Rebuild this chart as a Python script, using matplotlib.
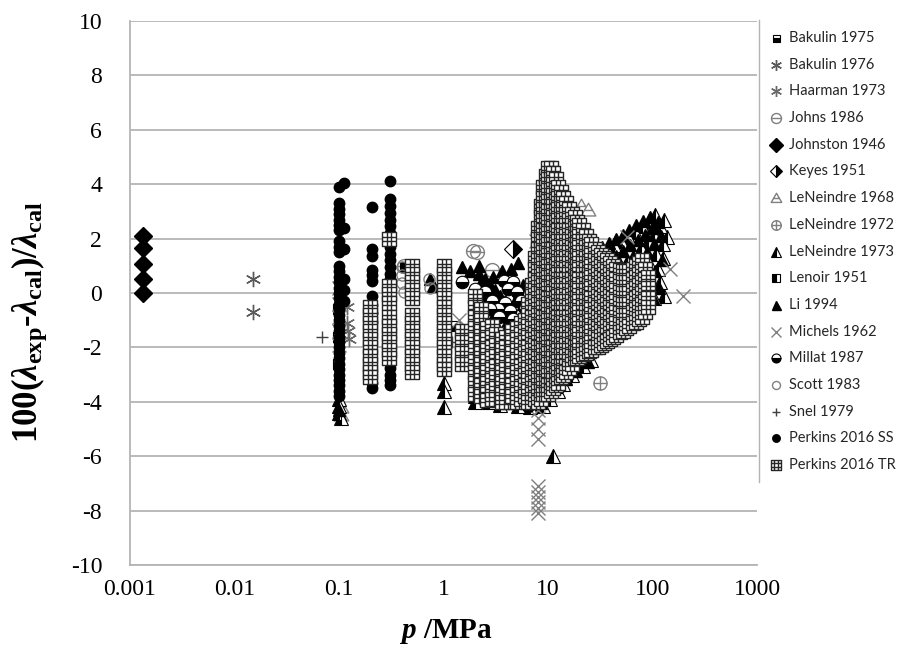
import matplotlib
matplotlib.use("Agg")
import matplotlib.pyplot as plt
from matplotlib.path import Path
from matplotlib.lines import Line2D

plt.rcParams['mathtext.fontset'] = 'custom'
plt.rcParams['mathtext.rm'] = 'Liberation Serif:bold'
plt.rcParams['mathtext.it'] = 'Liberation Serif:italic:bold'
plt.rcParams['mathtext.bf'] = 'Liberation Serif:bold'

# ---------------------------------------------------------------- data
# pressure p / MPa and relative deviation 100(lam_exp - lam_cal)/lam_cal

bakulin75_p = [0.098, 0.098, 0.098, 1.3, 2.2]
bakulin75_d = [-0.6, -1.6, -2.6, -1.2, -2.4]

bakulin76_p = [0.015, 0.015]
bakulin76_d = [0.5, -0.7]

haarman_p = [0.118, 0.122, 0.125, 0.12]
haarman_d = [-1.1, -1.4, -1.7, -0.5]

johns_p = [0.42, 1.9, 2.1, 2.9, 4.2]
johns_d = [1.0, 1.55, 1.5, 0.85, 0.5]

johnston_p = [0.00133, 0.00133, 0.00133, 0.00133, 0.00133]
johnston_d = [2.1, 1.65, 1.05, 0.5, 0.0]

keyes_p = [4.6]
keyes_d = [1.6]

leneindre68_p = [20.5, 24.0, 0.105, 0.105]
leneindre68_d = [3.2, 3.05, -4.2, -4.5]

leneindre72_p = [31.5, 21.0]
leneindre72_d = [-3.3, 2.4]

leneindre73_p = [0.1, 0.1, 0.1, 0.104, 1.0, 1.0, 1.0, 2.0, 2.0, 2.7, 3.5, 4.2,
                 5.2, 6.8, 8.2, 9.0, 11.2, 10.4, 12.5, 13.9, 17.0, 21.7, 26.0,
                 22.0, 26.0, 31.0, 37.0, 43.0, 50.0, 58.0, 68.0, 79.0, 92.0, 106.0,
                 31.0, 36.0, 42.0, 49.0, 57.0, 66.0, 77.0, 90.0, 104.0, 118.0, 128.0,
                 50.0, 58.0, 68.0, 80.0, 93.0, 108.0, 125.0, 138.0,
                 85.0, 104.0, 117.0, 130.0, 112.0, 125.0]
leneindre73_d = [-3.9, -4.15, -4.4, -4.6, -3.3, -3.6, -4.2, -3.8, -4.0, -4.0, -4.1, -4.0,
                 -4.15, -4.2, -4.05, -4.15, -6.0, -3.9, -3.6, -3.35, -3.0, -2.7, -2.45,
                 1.1, 1.25, 1.45, 1.6, 1.75, 1.9, 2.05, 2.25, 2.45, 2.65, 2.85,
                 0.35, 0.55, 0.75, 0.95, 1.15, 1.4, 1.65, 1.9, 2.15, 2.45, 2.7,
                 0.05, 0.3, 0.55, 0.8, 1.1, 1.45, 1.8, 2.05,
                 -0.2, -0.2, 0.4, -0.1, 0.9, 1.3]

lenoir_p = [0.43, 2.0, 5.0, 10.0, 20.0]
lenoir_d = [0.95, -1.0, -2.0, -1.0, 0.0]

li_p = [0.1, 0.75, 0.8, 1.5, 1.8, 2.2, 2.3, 2.6, 2.8, 3.0, 3.2, 3.4, 3.6, 3.3, 3.8,
        4.2, 4.5, 4.0, 5.0, 5.4, 5.8, 6.2, 5.2, 2.0, 2.5,
        2.2, 2.5, 2.8, 3.1, 3.5, 3.9, 4.3, 4.8, 5.3, 5.8,
        2.4, 2.7, 3.0, 3.4, 3.8, 4.2, 4.7, 5.2, 5.7, 6.1,
        2.9, 3.3, 3.7, 4.1, 4.6, 5.1, 3.0, 3.6, 4.4,
        8.6, 10.0, 12.0, 15.0, 18.5, 24.0,
        24.0, 28.0, 33.0, 38.0, 45.0, 52.0, 60.0, 70.0, 82.0, 95.0,
        28.0, 33.0, 38.0, 45.0, 52.0, 61.0, 72.0, 84.0, 98.0, 112.0,
        40.0, 47.0, 55.0, 64.0, 75.0, 88.0, 103.0, 120.0,
        65.0, 76.0, 90.0, 105.0, 122.0, 100.0, 115.0]
li_d = [-4.3, 0.5, 0.25, 0.95, 0.8, 1.0, 0.4, -0.2, -0.6, -0.9, -1.2, -1.5, -1.8, -0.3, -0.7,
        -1.0, -1.3, -2.0, 0.2, -0.1, -0.4, -0.7, 1.1, 0.0, -0.9,
        0.7, 0.5, 0.3, 0.1, -0.1, -0.3, -0.5, -0.3, 0.0, 0.3,
        -0.4, -0.45, -0.5, -0.6, -0.8, -0.9, -1.1, -1.0, -0.9, -1.1,
        -1.1, -1.3, -1.35, -1.4, -1.5, -1.3, 0.6, 0.8, 0.9,
        -4.05, -3.75, -3.45, -3.15, -2.85, -2.55,
        1.4, 1.55, 1.7, 1.85, 2.0, 2.15, 2.3, 2.5, 2.65, 2.8,
        0.8, 1.0, 1.15, 1.35, 1.55, 1.75, 1.95, 2.15, 2.4, 2.6,
        0.3, 0.5, 0.75, 1.0, 1.25, 1.5, 1.8, 2.1,
        -0.1, 0.15, 0.45, 0.8, 1.2, -0.2, 0.2]

michels_p = [8.0, 8.0, 8.0, 8.0, 8.0, 8.0, 8.0, 8.0, 8.0, 8.0,
             0.1, 0.1, 0.1, 0.1, 0.1, 8.0, 7.6, 1.4, 1.6, 1.8, 57.0, 146.0, 195.0]
michels_d = [-4.3, -4.6, -5.0, -5.35, -7.1, -7.3, -7.5, -7.7, -7.9, -8.1,
             0.2, -0.4, -0.9, -1.4, -1.9, 2.3, 1.9, -1.0, -1.3, -1.6, 2.05, 0.9, -0.1]

millat_p = [1.5, 2.0, 2.5, 2.9, 3.3, 3.9, 4.1, 3.8, 2.8, 3.4, 4.3, 4.6, 5.0, 5.5, 6.0, 4.6, 6.4]
millat_d = [0.4, 0.15, 0.05, -0.3, -0.6, -0.35, 0.15, 0.45, -0.6, -0.9, -0.65, 0.4, 0.05, -0.3, -0.6, -0.95, -4.15]

scott_p = [0.4, 0.4, 0.4, 0.42, 0.72, 0.75]
scott_d = [0.95, 0.65, 0.35, 0.05, 0.5, 0.2]

snel_p = [0.069, 1.6, 3.5, 2.4, 1.2]
snel_d = [-1.62, -2.05, -1.95, -1.7, -1.8]

# Perkins 2016 steady-state: one list of deviations per pressure
ss_p = [0.101, 0.112, 0.205, 0.31]
ss_d = [
    [3.9, 3.3, 3.1, 2.9, 2.7, 2.5, 2.3, 1.9, 1.7, 1.5, 1.0, 0.8, 0.6, 0.4, 0.2, 0.0,
     -0.2, -0.4, -0.6, -0.8, -1.0, -1.2, -1.4, -1.6, -1.8, -2.0, -2.2, -2.4, -2.6,
     -2.8, -3.0, -3.2, -3.4, -3.6, -3.8],
    [4.05, 2.4, 1.6, 0.5, 0.1, -0.3],
    [3.15, 1.6, 1.35, 0.85, 0.65, 0.45, -0.1, -0.45, -0.75, -1.05, -3.3, -3.5],
    [4.1, 3.45, 3.2, 2.95, 2.7, 2.45, 2.2, 1.7, 1.45, 1.2, 0.95, 0.7, 0.5,
     -2.5, -2.75, -3.0, -3.2, -3.4],
]

# Perkins 2016 transient hot wire: one list of deviations per pressure
tr_p = [0.2, 0.3, 0.5, 1.0, 1.5, 2.0, 2.3, 2.6, 2.9, 3.2, 3.6, 4.0, 4.5, 5.0, 5.5,
        6.0, 6.5, 7.0, 7.5, 8.0, 8.5, 9.0, 9.5, 10.0, 10.6, 11.2, 11.8, 12.5, 13.2,
        14.0, 15.0, 16.0, 17.0, 18.0, 19.0, 20.0, 21.5, 23.0, 24.5, 26.0, 28.0,
        30.0, 32.0, 34.0, 36.5, 39.0, 42.0, 45.0, 48.5, 52.0, 56.0, 60.0, 65.0,
        70.0, 75.0, 80.0, 85.0, 90.0]
tr_d = [
    [-0.5, -0.8, -1.1, -1.4, -1.7, -2.0, -2.3, -2.6, -2.9, -3.1],
    [2.0, 0.25, -0.05, -0.35, -0.9, -1.2, -1.5, -1.8, -2.1, -2.4],
    [1.0, 0.7, 0.4, 0.1, -0.2, -0.8, -1.1, -1.4, -1.7, -2.0, -2.3, -2.6, -2.9],
    [1.0, 0.7, 0.4, 0.1, -0.2, -0.5, -0.8, -1.1, -1.4, -1.7, -2.0, -2.3, -2.6, -2.8],
    [-1.4, -1.8, -2.2, -2.6],
    [-0.1, -0.5, -0.9, -1.3, -1.7, -2.1, -2.5, -2.9, -3.3, -3.7],
    [-0.6, -1.0, -1.4, -1.8, -2.2, -2.6, -3.0, -3.4, -3.8],
    [-1.3, -1.7, -2.1, -2.5, -2.9, -3.3, -3.7, -3.95],
    [-1.2, -1.6, -2.0, -2.4, -2.8, -3.2, -3.6, -3.9],
    [-1.5, -1.9, -2.3, -2.7, -3.1, -3.5, -3.9],
    [-1.7, -2.1, -2.5, -2.9, -3.3, -3.7, -4.0],
    [-1.6, -2.0, -2.4, -2.8, -3.2, -3.6, -4.0],
    [-1.4, -1.8, -2.2, -2.6, -3.0, -3.4, -3.8],
    [-1.3, -1.7, -2.1, -2.5, -2.9, -3.3, -3.7, -4.0],
    [-1.1, -1.5, -1.9, -2.3, -2.7, -3.1, -3.5, -3.9],
    [-1.0, -1.4, -1.8, -2.2, -2.6, -3.0, -3.4, -3.8],
    [-0.4, -0.8, -1.2, -1.6, -2.0, -2.4, -2.8, -3.2, -3.6, -4.0],
    [0.3, -0.1, -0.5, -0.9, -1.3, -1.7, -2.1, -2.5, -2.9, -3.3, -3.7, -4.0],
    [1.3, 0.9, 0.5, 0.1, -0.3, -0.7, -1.1, -1.5, -1.9, -2.3, -2.7, -3.1, -3.5, -3.9],
    [2.4, 2.0, 1.6, 1.2, 0.8, 0.4, 0.0, -0.4, -0.8, -1.2, -1.6, -2.0, -2.4, -2.8,
     -3.2, -3.6, -4.0],
    [3.2, 2.8, 2.4, 2.0, 1.6, 1.2, 0.8, 0.4, 0.0, -0.4, -0.8, -1.2, -1.6, -2.0,
     -2.4, -2.8, -3.2, -3.6, -3.9],
    [3.9, 3.5, 3.1, 2.7, 2.3, 1.9, 1.5, 1.1, 0.7, 0.3, -0.1, -0.5, -0.9, -1.3,
     -1.7, -2.1, -2.5, -2.9, -3.3, -3.7],
    [4.3, 3.9, 3.5, 3.1, 2.7, 2.3, 1.9, 1.5, 1.1, 0.7, 0.3, -0.1, -0.5, -0.9,
     -1.3, -1.7, -2.1, -2.5, -2.9, -3.3, -3.7],
    [4.6, 4.2, 3.8, 3.4, 3.0, 2.6, 2.2, 1.8, 1.4, 1.0, 0.6, 0.2, -0.2, -0.6,
     -1.0, -1.4, -1.8, -2.2, -2.6, -3.0, -3.4, -3.7],
    [4.6, 4.2, 3.8, 3.4, 3.0, 2.6, 2.2, 1.8, 1.4, 1.0, 0.6, 0.2, -0.2, -0.6,
     -1.0, -1.4, -1.8, -2.2, -2.6, -3.0, -3.4, -3.6],
    [4.4, 4.0, 3.6, 3.2, 2.8, 2.4, 2.0, 1.6, 1.2, 0.8, 0.4, 0.0, -0.4, -0.8,
     -1.2, -1.6, -2.0, -2.4, -2.8, -3.2, -3.5],
    [4.2, 3.8, 3.4, 3.0, 2.6, 2.2, 1.8, 1.4, 1.0, 0.6, 0.2, -0.2, -0.6, -1.0,
     -1.4, -1.8, -2.2, -2.6, -3.0, -3.4],
    [3.9, 3.5, 3.1, 2.7, 2.3, 1.9, 1.5, 1.1, 0.7, 0.3, -0.1, -0.5, -0.9, -1.3,
     -1.7, -2.1, -2.5, -2.9, -3.3],
    [3.7, 3.3, 2.9, 2.5, 2.1, 1.7, 1.3, 0.9, 0.5, 0.1, -0.3, -0.7, -1.1, -1.5,
     -1.9, -2.3, -2.7, -3.1],
    [3.5, 3.1, 2.7, 2.3, 1.9, 1.5, 1.1, 0.7, 0.3, -0.1, -0.5, -0.9, -1.3, -1.7,
     -2.1, -2.5, -2.9, -3.0],
    [3.3, 2.9, 2.5, 2.1, 1.7, 1.3, 0.9, 0.5, 0.1, -0.3, -0.7, -1.1, -1.5, -1.9,
     -2.3, -2.7, -2.9],
    [3.1, 2.7, 2.3, 1.9, 1.5, 1.1, 0.7, 0.3, -0.1, -0.5, -0.9, -1.3, -1.7, -2.1,
     -2.5, -2.75],
    [2.9, 2.5, 2.1, 1.7, 1.3, 0.9, 0.5, 0.1, -0.3, -0.7, -1.1, -1.5, -1.9, -2.3, -2.6],
    [2.8, 2.4, 2.0, 1.6, 1.2, 0.8, 0.4, 0.0, -0.4, -0.8, -1.2, -1.6, -2.0, -2.4],
    [2.6, 2.2, 1.8, 1.4, 1.0, 0.6, 0.2, -0.2, -0.6, -1.0, -1.4, -1.8, -2.2, -2.4],
    [2.5, 2.1, 1.7, 1.3, 0.9, 0.5, 0.1, -0.3, -0.7, -1.1, -1.5, -1.9, -2.3],
    [2.3, 1.9, 1.5, 1.1, 0.7, 0.3, -0.1, -0.5, -0.9, -1.3, -1.7, -2.1, -2.25],
    [2.1, 1.7, 1.3, 0.9, 0.5, 0.1, -0.3, -0.7, -1.1, -1.5, -1.9, -2.2],
    [1.9, 1.5, 1.1, 0.7, 0.3, -0.1, -0.5, -0.9, -1.3, -1.7, -2.15],
    [1.8, 1.4, 1.0, 0.6, 0.2, -0.2, -0.6, -1.0, -1.4, -1.8, -2.1],
    [1.6, 1.2, 0.8, 0.4, 0.0, -0.4, -0.8, -1.2, -1.6, -2.0],
    [1.5, 1.1, 0.7, 0.3, -0.1, -0.5, -0.9, -1.3, -1.7, -2.0],
    [1.4, 1.0, 0.6, 0.2, -0.2, -0.6, -1.0, -1.4, -1.9],
    [1.3, 0.9, 0.5, 0.1, -0.3, -0.7, -1.1, -1.5, -1.85],
    [1.2, 0.8, 0.4, 0.0, -0.4, -0.8, -1.2, -1.55, -1.75],
    [1.1, 0.7, 0.3, -0.1, -0.5, -0.9, -1.3, -1.7],
    [1.0, 0.6, 0.2, -0.2, -0.6, -1.0, -1.4, -1.6],
    [0.9, 0.5, 0.1, -0.3, -0.7, -1.1, -1.55],
    [0.85, 0.45, 0.05, -0.35, -0.75, -1.15, -1.45],
    [0.8, 0.4, 0.0, -0.4, -0.8, -1.2, -1.4],
    [0.8, 0.4, 0.0, -0.4, -0.8, -1.3],
    [0.8, 0.4, 0.0, -0.4, -0.8, -1.2],
    [0.9, 0.5, 0.1, -0.3, -0.7, -1.1],
    [1.0, 0.6, 0.2, -0.2, -0.6, -1.05],
    [1.1, 0.7, 0.3, -0.1, -0.5, -0.95],
    [1.2, 0.8, 0.4, 0.0, -0.4, -0.9],
    [0.9, 0.5, 0.1, -0.3, -0.7],
    [0.6, 0.2, -0.2, -0.5],
]

y_ticks = [-10, -8, -6, -4, -2, 0, 2, 4, 6, 8, 10]
x_ticks = [0.001, 0.01, 0.1, 1, 10, 100, 1000]
x_tick_labels = ['0.001', '0.01', '0.1', '1', '10', '100', '1000']


def expand(pressures, columns):
    xs, ys = [], []
    for p, col in zip(pressures, columns):
        xs.extend([p] * len(col))
        ys.extend(col)
    return xs, ys


ss_x, ss_y = expand(ss_p, ss_d)
tr_x, tr_y = expand(tr_p, tr_d)

# ---------------------------------------------------------------- marker shapes
MO, LI, CL = Path.MOVETO, Path.LINETO, Path.CLOSEPOLY
circle = Path.unit_circle()
hbar = Path([[-1, 0], [1, 0]], [MO, LI])
vbar = Path([[0, -1], [0, 1]], [MO, LI])
THETA = Path.make_compound_path(circle, hbar)
OPLUS = Path.make_compound_path(circle, hbar, vbar)
tri = Path([[0, 1], [-1, -0.75], [1, -0.75], [0, 1]], [MO, LI, LI, CL])
TRI_BAR = Path.make_compound_path(tri, Path([[-0.55, 0.0], [0.55, 0.0]], [MO, LI]))
square = Path([[-1, -1], [1, -1], [1, 1], [-1, 1], [-1, -1]], [MO, LI, LI, LI, CL])
t = 1.0 / 3.0
grid_lines = Path([[-t, -1], [-t, 1], [t, -1], [t, 1],
                   [-1, -t], [1, -t], [-1, t], [1, t]],
                  [MO, LI, MO, LI, MO, LI, MO, LI])
TR_MARK = Path.make_compound_path(square, grid_lines)

GRAY = '#808080'
series = [
    ('Bakulin 1975', bakulin75_p, bakulin75_d,
     dict(marker='s', ms=7, mec='black', mfc='black', mfcalt='white', fillstyle='bottom', mew=0.8)),
    ('Bakulin 1976', bakulin76_p, bakulin76_d,
     dict(marker=(6, 2, 0), ms=11, mec='#5a5a5a', mew=1.0)),
    ('Haarman 1973', haarman_p, haarman_d,
     dict(marker=(6, 2, 0), ms=11, mec='#6a6a6a', mew=1.0)),
    ('Johns 1986', johns_p, johns_d,
     dict(marker=THETA, ms=10, mec=GRAY, mfc='none', mew=1.0)),
    ('Johnston 1946', johnston_p, johnston_d,
     dict(marker='D', ms=9.5, mec='black', mfc='black')),
    ('Keyes 1951', keyes_p, keyes_d,
     dict(marker='D', ms=9, mec='black', mfc='black', mfcalt='white', fillstyle='right', mew=0.8)),
    ('LeNeindre 1968', leneindre68_p, leneindre68_d,
     dict(marker=TRI_BAR, ms=10.5, mec=GRAY, mfc='white', mew=1.0)),
    ('LeNeindre 1972', leneindre72_p, leneindre72_d,
     dict(marker=OPLUS, ms=9.5, mec=GRAY, mfc='none', mew=1.0)),
    ('LeNeindre 1973', leneindre73_p, leneindre73_d,
     dict(marker='^', ms=10, mec='black', mfc='black', mfcalt='white', fillstyle='left', mew=0.8)),
    ('Lenoir 1951', lenoir_p, lenoir_d,
     dict(marker='s', ms=7.5, mec='black', mfc='black', mfcalt='white', fillstyle='left', mew=0.8)),
    ('Li 1994', li_p, li_d,
     dict(marker='^', ms=9, mec='black', mfc='black')),
    ('Michels 1962', michels_p, michels_d,
     dict(marker='x', ms=10.5, mec=GRAY, mew=1.0)),
    ('Millat 1987', millat_p, millat_d,
     dict(marker='o', ms=9, mec='black', mfc='black', mfcalt='white', fillstyle='bottom', mew=0.8)),
    ('Scott 1983', scott_p, scott_d,
     dict(marker='o', ms=8, mec=GRAY, mfc='none', mew=1.0)),
    ('Snel 1979', snel_p, snel_d,
     dict(marker='+', ms=8.5, mec='#404040', mew=1.0)),
    ('Perkins 2016 SS', ss_x, ss_y,
     dict(marker='o', ms=7.5, mec='black', mfc='black')),
    ('Perkins 2016 TR', tr_x, tr_y,
     dict(marker=TR_MARK, ms=10, mec='#262626', mfc='white', mew=1.0)),
]

# ---------------------------------------------------------------- figure
W, H, DPI = 900, 648, 100
fig = plt.figure(figsize=(W / DPI, H / DPI), dpi=DPI)
ax = fig.add_axes([130 / W, 1 - 565 / H, 627 / W, 544 / H])

for label, xs, ys, st in series:
    ax.plot(xs, ys, ls='none', label=label, **st)

ax.set_xscale('log')
ax.set_xlim(0.001, 1000)
ax.set_ylim(-10, 10)
ax.set_xticks(x_ticks)
ax.set_xticklabels(x_tick_labels)
ax.xaxis.set_minor_locator(matplotlib.ticker.NullLocator())
ax.set_yticks(y_ticks)
ax.set_yticklabels([str(v) for v in y_ticks])
ax.tick_params(length=0, labelsize=17)
ax.tick_params(axis='y', pad=20)
ax.tick_params(axis='x', pad=10)
for tl in ax.get_xticklabels() + ax.get_yticklabels():
    tl.set_fontfamily('Liberation Serif')
ax.set_axisbelow(True)
ax.grid(axis='y', color='#b4b4b4', lw=1.3)
for side in ('top', 'right'):
    ax.spines[side].set_visible(False)
for side in ('left', 'bottom'):
    ax.spines[side].set_color('#b4b4b4')
    ax.spines[side].set_linewidth(1.3)

fig.text(446 / W, 1 - 638 / H, r'$p\ \mathrm{/MPa}$',
         ha='center', va='baseline', fontsize=21)
fig.text(29 / W, 1 - 322 / H,
         r'$\mathrm{100(}\lambda_{\mathrm{exp}}\text{-}\lambda_{\mathrm{cal}}\mathrm{)/}\lambda_{\mathrm{cal}}$',
         rotation=90, ha='center', va='center', fontsize=25)

# legend column on the right
lax = fig.add_axes([0, 0, 1, 1], facecolor='none')
lax.set_xlim(0, W)
lax.set_ylim(H, 0)
lax.axis('off')
lax.add_line(Line2D([759, 759], [20, 482], color='#b4b4b4', lw=1.0))
for i, (label, xs, ys, st) in enumerate(series):
    y = 38 + i * (465 - 38) / 16
    st_small = dict(st)
    st_small['ms'] = st['ms'] * 0.72
    lax.plot([776], [y], ls='none', **st_small)
    lax.text(789, y, label, va='center', ha='left', fontsize=10.5,
             family='Lato', color='#262626')

fig.savefig('out.png', dpi=DPI)
